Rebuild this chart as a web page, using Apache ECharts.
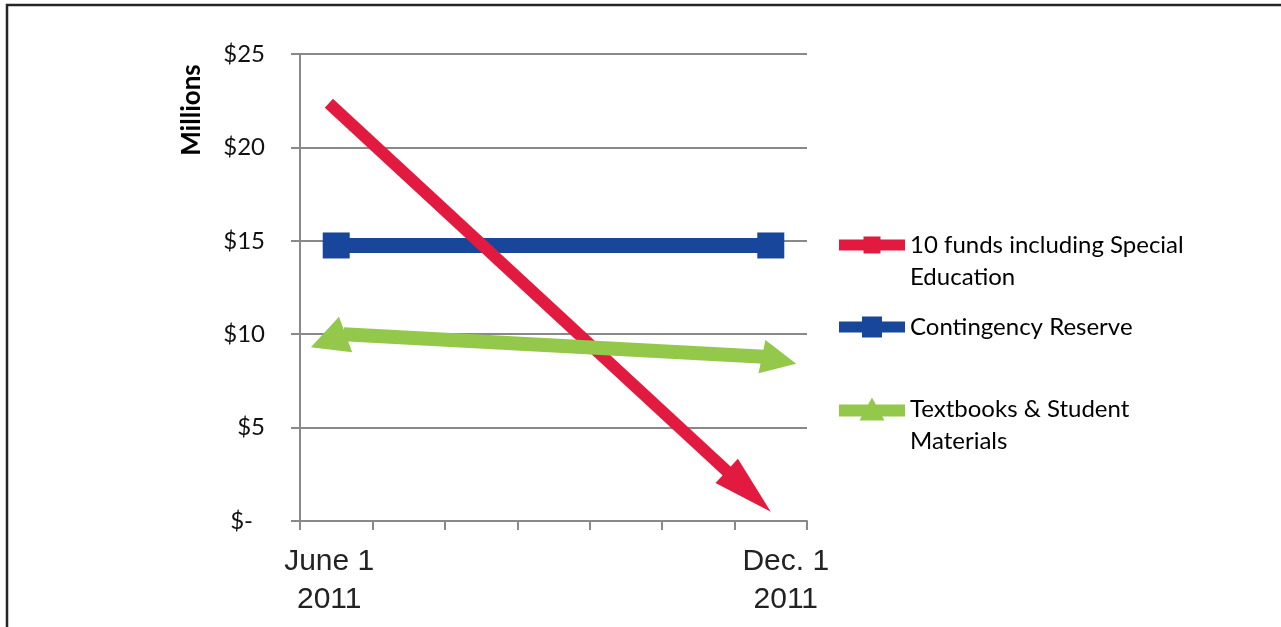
<!DOCTYPE html>
<html>
<head>
<meta charset="utf-8">
<script src="https://cdn.jsdelivr.net/npm/echarts@6/dist/echarts.min.js"></script>
<style>
  html, body { margin: 0; padding: 0; background: #ffffff; }
  #chart { width: 1281px; height: 627px; }
</style>
</head>
<body>
<div id="chart"></div>
<script>
// Months June..December 2011; only the first and the last carry a label
const months = ['2011-06', '2011-07', '2011-08', '2011-09', '2011-10', '2011-11', '2011-12'];
const monthLabels = ['June 1\n2011', '', '', '', '', '', 'Dec. 1\n2011'];

const seriesNames = [
  '10 funds including Special\nEducation',
  'Contingency Reserve',
  'Textbooks & Student\nMaterials'
];

// Balances in millions of dollars on June 1 and Dec. 1
const tenFunds    = [22.0,  null, null, null, null, null, 0.5];
const contingency = [14.75, null, null, null, null, null, 14.75];
const textbooks   = [9.8,   null, null, null, null, null, 8.7];

// Value axis ticks (millions)
const yTicks = [0, 5, 10, 15, 20, 25];

const RED = '#e31a40';
const BLUE = '#18469b';
const GREEN = '#93c84a';
const GRID_GRAY = '#898989';

function toPoints(values) {
  const pts = [];
  values.forEach(function (v, i) { if (v != null) pts.push([i, v]); });
  return pts;
}

// ---- small vector helpers for the arrow shapes ----
function unit(a, b) {
  const dx = b[0] - a[0], dy = b[1] - a[1];
  const l = Math.hypot(dx, dy) || 1;
  return [dx / l, dy / l];
}
function rot(v, deg) {
  const r = deg * Math.PI / 180, c = Math.cos(r), s = Math.sin(r);
  return [v[0] * c - v[1] * s, v[0] * s + v[1] * c];
}
function add(p, v, k) { return [p[0] + v[0] * k, p[1] + v[1] * k]; }
function band(a, b, half) {
  const u = unit(a, b), n = [-u[1], u[0]];
  return [add(a, n, half), add(b, n, half), add(b, n, -half), add(a, n, -half)];
}
// triangle head: tip is placed `reach` px beyond the data point along dir
function head(point, dir, h) {
  const tip = add(point, dir, h.reach);
  const base = add(tip, dir, -h.len);
  const n = [-dir[1], dir[0]];
  return { poly: [add(base, n, h.half), tip, add(base, n, -h.half)], base: base };
}

// Thick arrow from the first to the last point of a series
function arrowRenderer(points, cfg) {
  return function (params, api) {
    if (params.dataIndex !== 0) return null;
    const p0 = api.coord(points[0]);
    const p1 = api.coord(points[points.length - 1]);
    const u = unit(p0, p1);
    const fill = api.visual('color');
    const children = [];
    let a = add(p0, u, -(cfg.startExtend || 0));
    let b = p1;
    if (cfg.startHead) {
      const hs = head(p0, rot([-u[0], -u[1]], cfg.startHead.turn), cfg.startHead);
      children.push({ type: 'polygon', shape: { points: hs.poly }, style: { fill: fill } });
      a = hs.base;
    }
    if (cfg.endHead) {
      const he = head(p1, rot(u, cfg.endHead.turn), cfg.endHead);
      children.push({ type: 'polygon', shape: { points: he.poly }, style: { fill: fill } });
      b = he.base;
    }
    // shaft slightly overlaps the heads to avoid a seam
    const su = unit(a, b);
    const a2 = cfg.startHead ? add(a, su, -2) : a;
    const b2 = cfg.endHead ? add(b, su, 2) : b;
    children.unshift({ type: 'polygon', shape: { points: band(a2, b2, cfg.shaftHalf) }, style: { fill: fill } });
    return { type: 'group', children: children };
  };
}

const redPts = toPoints(tenFunds);
const greenPts = toPoints(textbooks);

const legendFont = { fontFamily: 'Lato', fontSize: 24, color: '#000000', lineHeight: 32 };

function legendBlock(name, icon, h, top, multiLine) {
  return {
    data: [{ name: name, icon: icon }],
    left: 839,
    top: top,
    orient: 'vertical',
    padding: 0,
    itemWidth: 66,
    itemHeight: h,
    symbolKeepAspect: false,
    selectedMode: false,
    itemStyle: { borderWidth: 0 },
    textStyle: legendFont,
    formatter: function (n) { return multiLine ? '\n' + n : n; }
  };
}

const chart = echarts.init(document.getElementById('chart'), null, { renderer: 'canvas' });

chart.setOption({
  animation: false,
  backgroundColor: '#ffffff',
  grid: { left: 300, right: 474, top: 54, bottom: 106, outerBoundsMode: 'none', containLabel: false },
  xAxis: {
    type: 'category',
    data: months,
    boundaryGap: true,
    axisLine: { show: true, lineStyle: { color: GRID_GRAY, width: 2 } },
    axisTick: { show: true, length: 9, inside: false, lineStyle: { color: GRID_GRAY, width: 2 } },
    splitLine: { show: false },
    axisLabel: {
      interval: 0,
      margin: 22,
      formatter: function (v, i) {
        const t = monthLabels[i];
        if (!t) return '';
        const key = i === 0 ? 'first' : 'last';
        return t.split('\n').map(function (s) { return '{' + key + '|' + s + '}'; }).join('\n');
      },
      rich: {
        first: { fontFamily: 'Liberation Sans', fontSize: 30, color: '#222222', lineHeight: 38, padding: [0, 14, 0, 0] },
        last:  { fontFamily: 'Liberation Sans', fontSize: 30, color: '#222222', lineHeight: 38, padding: [0, 0, 0, 30] }
      }
    }
  },
  yAxis: {
    type: 'value',
    min: yTicks[0],
    max: yTicks[yTicks.length - 1],
    interval: yTicks[1] - yTicks[0],
    axisLine: { show: true, lineStyle: { color: GRID_GRAY, width: 2 } },
    axisTick: { show: true, length: 9, lineStyle: { color: GRID_GRAY, width: 2 } },
    splitLine: { show: true, lineStyle: { color: GRID_GRAY, width: 2 } },
    axisLabel: {
      margin: 35,
      fontFamily: 'Lato',
      fontSize: 24,
      color: '#111111',
      formatter: function (v) { return v === 0 ? '{z|$-}' : '$' + v; },
      rich: { z: { fontFamily: 'Lato', fontSize: 24, color: '#111111', padding: [0, 12, 0, 0] } }
    }
  },
  legend: [
    legendBlock(seriesNames[0], 'path://M0,3H24.5V0H41.5V3H66V14H41.5V17H24.5V14H0Z', 17, 197, true),
    legendBlock(seriesNames[1], 'path://M0,5H23V0H43V5H66V16H43V21H23V16H0Z', 21, 311, false),
    legendBlock(seriesNames[2], 'path://M0,7H29.2L33,0L36.8,7H66V19H43.3L45.5,23H20.5L22.7,19H0Z', 23, 361, true)
  ],
  graphic: [
    {
      type: 'rect',
      shape: { x: 7, y: 5, width: 1300, height: 700 },
      style: { fill: 'none', stroke: '#262626', lineWidth: 2.5 },
      silent: true
    },
    {
      type: 'text',
      x: 192,
      y: 110,
      rotation: Math.PI / 2,
      style: {
        text: 'Millions',
        fontFamily: 'Lato',
        fontWeight: 'bold',
        fontSize: 26,
        fill: '#000000',
        align: 'center',
        verticalAlign: 'middle'
      },
      silent: true
    }
  ],
  series: [
    {
      name: seriesNames[1],
      type: 'line',
      data: contingency,
      connectNulls: true,
      symbol: 'rect',
      symbolSize: [27, 26],
      showAllSymbol: true,
      lineStyle: { color: BLUE, width: 15 },
      itemStyle: { color: BLUE, borderWidth: 0 },
      emphasis: { disabled: true },
      z: 2
    },
    {
      name: seriesNames[0],
      type: 'custom',
      data: redPts,
      encode: { x: 0, y: 1 },
      itemStyle: { color: RED },
      renderItem: arrowRenderer(redPts, {
        shaftHalf: 6,
        startExtend: 10,
        endHead: { reach: 0, len: 60, half: 16.5, turn: 0 }
      }),
      z: 3
    },
    {
      name: seriesNames[2],
      type: 'custom',
      data: greenPts,
      encode: { x: 0, y: 1 },
      itemStyle: { color: GREEN },
      renderItem: arrowRenderer(greenPts, {
        shaftHalf: 7,
        startHead: { reach: 27, len: 37, half: 19, turn: -23 },
        endHead: { reach: 26, len: 35, half: 17, turn: 9 }
      }),
      z: 3
    }
  ]
});
</script>
</body>
</html>
